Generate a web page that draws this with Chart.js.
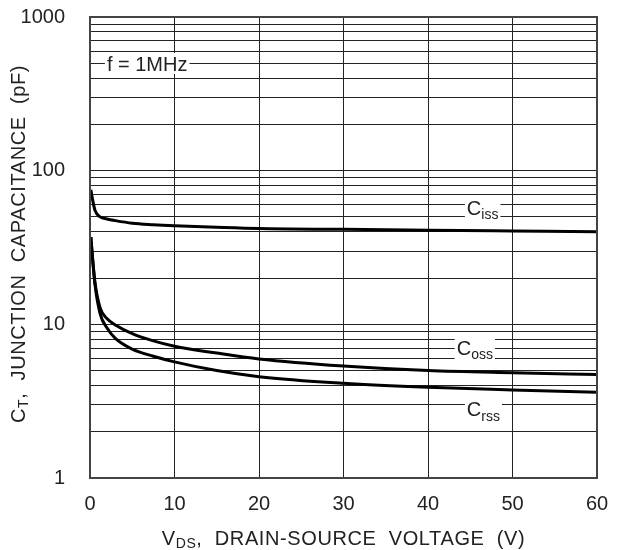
<!DOCTYPE html>
<html>
<head>
<meta charset="utf-8">
<script src="https://cdn.jsdelivr.net/npm/chart.js@4"></script>
<style>
  html, body { margin: 0; padding: 0; background: #fff; }
  #wrap { width: 621px; height: 550px; }
</style>
</head>
<body>
<div id="wrap"><canvas id="capChart" width="621" height="550"></canvas></div>
<script>
// Data
const vds = [0.1, 0.3, 0.6, 1.2, 2, 3, 5, 7.5, 10, 15, 20, 30, 40, 50, 60];
const ciss = [75, 65, 55, 50, 48.5, 47.3, 45.5, 44.5, 43.8, 42.8, 42, 41.5, 41, 40.5, 40];
const coss = [37, 27, 18.5, 12.8, 10.9, 9.9, 8.7, 7.8, 7.2, 6.5, 5.95, 5.35, 5.0, 4.84, 4.72];
const crss = [37, 27, 18, 11.7, 9.5, 8.1, 6.9, 6.2, 5.7, 5.0, 4.56, 4.13, 3.89, 3.74, 3.61];

const xTicks = [0, 10, 20, 30, 40, 50, 60];
const yDecades = [1, 10, 100, 1000];

// curve labels (main text, subscript, where they sit in data units)
const curveLabels = [
    { text: 'f = 1MHz', sub: '', x: 2.0, y: 487 },
    { text: 'C', sub: 'iss', x: 44.6, y: 56 },
    { text: 'C', sub: 'oss', x: 43.4, y: 6.9 },
    { text: 'C', sub: 'rss', x: 44.6, y: 2.73 }
];

const FONT = '"Liberation Sans", Arial, sans-serif';
const TEXT = '#222';

function toPoints(ys) {
    return vds.map((v, i) => ({ x: v, y: ys[i] }));
}

// every integer step inside each decade gets a grid line
function logGridValues() {
    const vals = [];
    for (let d = 0; d < yDecades.length - 1; d++) {
        for (let k = 1; k <= 9; k++) vals.push(yDecades[d] * k);
    }
    vals.push(yDecades[yDecades.length - 1]);
    return vals;
}

function drawSubText(ctx, x, y, main, sub, size) {
    ctx.font = size + 'px ' + FONT;
    ctx.fillText(main, x, y);
    const w = ctx.measureText(main).width;
    if (sub) {
        ctx.font = Math.round(size * 0.7) + 'px ' + FONT;
        ctx.fillText(sub, x + w, y + size * 0.3);
        return w + ctx.measureText(sub).width;
    }
    return w;
}

// axis title with a subscript after the first letter
function drawTitle(ctx, x, y, main, sub, rest) {
    const big = '20px ' + FONT, small = '14px ' + FONT;
    ctx.letterSpacing = '0.6px';
    ctx.font = big;
    const w1 = ctx.measureText(main).width, w3 = ctx.measureText(rest).width;
    ctx.font = small;
    const w2 = ctx.measureText(sub).width;
    let cx = x - (w1 + w2 + w3) / 2;
    ctx.font = big;
    ctx.fillText(main, cx, y);
    cx += w1;
    ctx.font = small;
    ctx.fillText(sub, cx, y + 3);
    cx += w2;
    ctx.font = big;
    ctx.fillText(rest, cx, y);
    ctx.letterSpacing = '0px';
}

const decorPlugin = {
    id: 'decor',
    afterDatasetsDraw(chart) {
        const ctx = chart.ctx;
        const xs = chart.scales.x, ys = chart.scales.y;
        const area = chart.chartArea;
        ctx.save();

        // plot frame
        ctx.strokeStyle = '#444';
        ctx.lineWidth = 2;
        ctx.strokeRect(area.left, area.top, area.right - area.left, area.bottom - area.top);

        // labels sitting on the grid with a white box behind
        ctx.textBaseline = 'middle';
        ctx.textAlign = 'left';
        curveLabels.forEach(l => {
            const px = xs.getPixelForValue(l.x);
            const py = ys.getPixelForValue(l.y);
            const size = 20;
            ctx.font = size + 'px ' + FONT;
            let w = ctx.measureText(l.text).width;
            if (l.sub) {
                ctx.font = Math.round(size * 0.7) + 'px ' + FONT;
                w += ctx.measureText(l.sub).width;
            }
            ctx.fillStyle = '#fff';
            ctx.fillRect(px - 2, py - 12, w + 4, l.sub ? 25 : 21);
            ctx.fillStyle = TEXT;
            drawSubText(ctx, px, py, l.text, l.sub, size);
        });

        // axis titles
        ctx.fillStyle = TEXT;
        ctx.textBaseline = 'alphabetic';
        drawTitle(ctx, (area.left + area.right) / 2, 545, 'V', 'DS', ',  DRAIN-SOURCE  VOLTAGE  (V)');

        ctx.translate(25, 244);
        ctx.rotate(-Math.PI / 2);
        drawTitle(ctx, 0, 0, 'C', 'T', ',  JUNCTION  CAPACITANCE  (pF)');

        ctx.restore();
    }
};

const lineStyle = {
    borderColor: '#000',
    borderWidth: 3,
    pointRadius: 0,
    fill: false,
    cubicInterpolationMode: 'monotone'
};

new Chart(document.getElementById('capChart'), {
    type: 'line',
    data: {
        datasets: [
            { label: 'Ciss', data: toPoints(ciss), ...lineStyle },
            { label: 'Coss', data: toPoints(coss), ...lineStyle },
            { label: 'Crss', data: toPoints(crss), ...lineStyle }
        ]
    },
    options: {
        responsive: false,
        animation: false,
        events: [],
        layout: { padding: { top: 17, right: 24, left: 0, bottom: 0 } },
        plugins: {
            legend: { display: false },
            tooltip: { enabled: false }
        },
        scales: {
            x: {
                type: 'linear',
                min: 0,
                max: 60,
                afterBuildTicks: s => { s.ticks = xTicks.map(v => ({ value: v })); },
                afterFit: s => { s.height = 72; s.paddingLeft = 0; s.paddingRight = 0; },
                grid: { color: '#222', lineWidth: 1, drawTicks: false },
                border: { color: '#444', width: 2 },
                ticks: {
                    padding: 14,
                    color: TEXT,
                    font: { family: FONT, size: 20 },
                    maxRotation: 0,
                    autoSkip: false
                }
            },
            y: {
                type: 'logarithmic',
                min: 1,
                max: 1000,
                afterBuildTicks: s => { s.ticks = logGridValues().map(v => ({ value: v })); },
                afterFit: s => { s.width = 90; s.paddingTop = 0; s.paddingBottom = 0; },
                grid: { color: '#222', lineWidth: 1, drawTicks: false },
                border: { color: '#444', width: 2 },
                ticks: {
                    padding: 25,
                    color: TEXT,
                    font: { family: FONT, size: 20 },
                    autoSkip: false,
                    callback: v => yDecades.includes(v) ? String(v) : ''
                }
            }
        }
    },
    plugins: [decorPlugin]
});
</script>
</body>
</html>
